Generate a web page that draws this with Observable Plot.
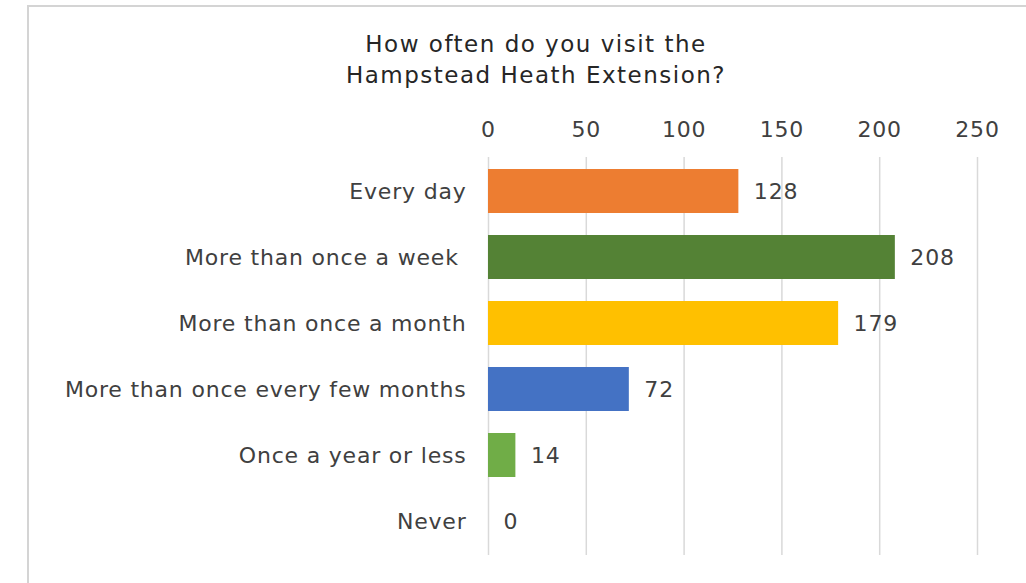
<!DOCTYPE html>
<html>
<head>
<meta charset="utf-8">
<script src="https://cdn.jsdelivr.net/npm/d3@7"></script>
<script src="https://cdn.jsdelivr.net/npm/@observablehq/plot@0.6"></script>
<style>
  html, body { margin: 0; padding: 0; background: #fff; }
  body { width: 1026px; height: 583px; overflow: hidden; position: relative; font-family: "DejaVu Sans", sans-serif; }
  #frame { position: absolute; left: 27px; top: 5px; width: 1100px; height: 700px; border: 2px solid #d4d4d4; box-sizing: border-box; }
  #title { position: absolute; left: 0; top: 0; width: 1072px; height: 100px; text-align: center; color: #262626; font-size: 23px; letter-spacing: 1.5px; line-height: 31px; padding-top: 29px; box-sizing: border-box; }
  #chart { position: absolute; left: 0; top: 100px; }
</style>
</head>
<body>
<div id="frame"></div>
<div id="title">How often do you visit the<br>Hampstead Heath Extension?</div>
<div id="chart"></div>
<script>
const categories = ["Every day", "More than once a week ", "More than once a month", "More than once every few months", "Once a year or less", "Never"];
const counts = [128, 208, 179, 72, 14, 0];
const barColors = ["#ED7D31", "#548235", "#FFC000", "#4472C4", "#70AD47", "#A5A5A5"];
const xTicks = [0, 50, 100, 150, 200, 250];

const data = categories.map((c, i) => ({category: c, value: counts[i], color: barColors[i]}));

const chart = Plot.plot({
  width: 1026,
  height: 483,
  marginLeft: 488,
  marginRight: 49,
  marginTop: 57,
  marginBottom: 28,
  style: {fontFamily: "DejaVu Sans, sans-serif", fontSize: "22px", letterSpacing: "0.8px", color: "#404040", background: "transparent"},
  x: {domain: [0, 250], axis: null, label: null},
  y: {domain: categories, paddingInner: 0.34, paddingOuter: 0.17, axis: null, label: null},
  marks: [
    Plot.ruleX(xTicks, {stroke: "#d9d9d9", strokeWidth: 1.5}),
    Plot.barX(data, {x: "value", y: "category", fill: "color"}),
    Plot.axisX(xTicks, {anchor: "top", label: null, tickSize: 0, tickPadding: 21, fontSize: 22, fill: "#404040"}),
    Plot.axisY({anchor: "left", label: null, tickSize: 0, tickPadding: 22, fontSize: 22, fill: "#404040"}),
    Plot.text(data, {x: "value", y: "category", text: d => String(d.value), textAnchor: "start", dx: 15, fontSize: 22, fill: "#404040"})
  ]
});
document.getElementById("chart").appendChild(chart);
</script>
</body>
</html>
